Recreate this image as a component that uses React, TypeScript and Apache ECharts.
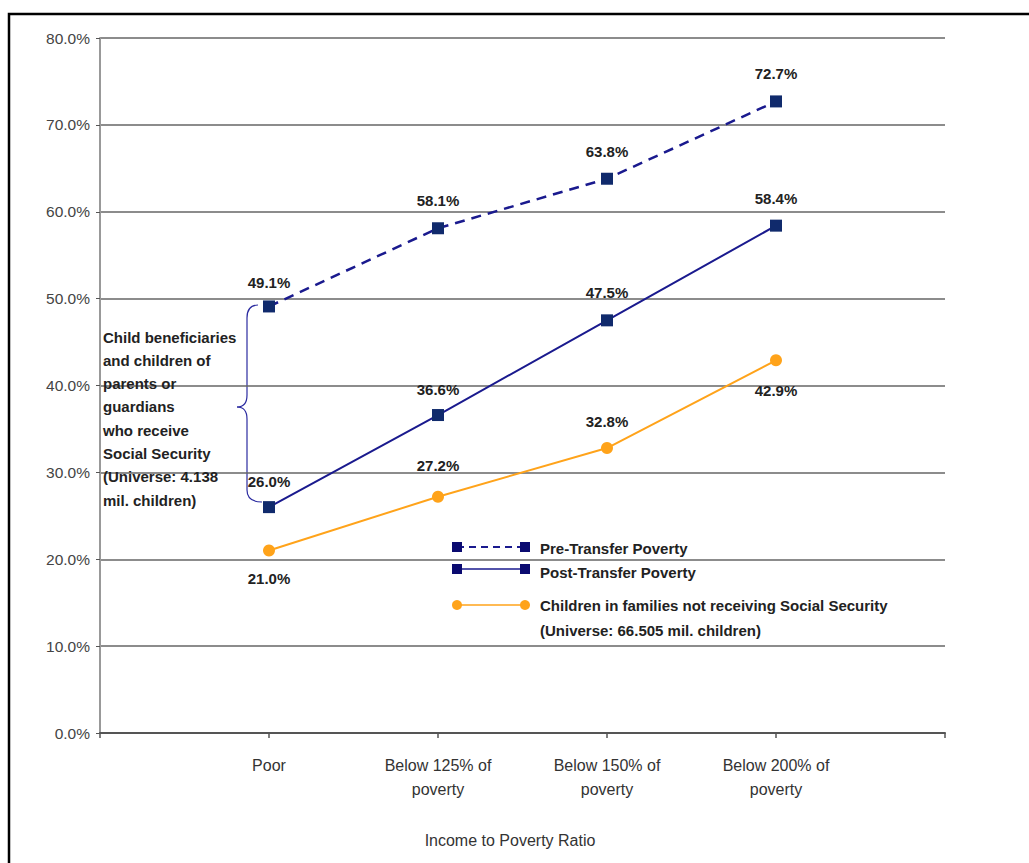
import React, { useEffect, useRef } from "react";
import * as echarts from "echarts";

const categories = ["Poor", "Below 125% of\npoverty", "Below 150% of\npoverty", "Below 200% of\npoverty"];
const preTransfer = [49.1, 58.1, 63.8, 72.7];
const postTransfer = [26.0, 36.6, 47.5, 58.4];
const notReceiving = [21.0, 27.2, 32.8, 42.9];
const preLabelPos = ["top", "top", "top", "top"];
const postLabelPos = ["top", "top", "top", "top"];
const notLabelPos = ["bottom", "top", "top", "bottom"];
const yTicks = [0, 10, 20, 30, 40, 50, 60, 70, 80];
const annotationLines = [
  "Child beneficiaries",
  "and children of",
  "parents or",
  "guardians",
  "who receive",
  "Social Security",
  "(Universe: 4.138",
  "mil. children)",
];
const legendNames = [
  "Pre-Transfer Poverty",
  "Post-Transfer Poverty",
  "Children in families not receiving Social Security",
  "(Universe: 66.505 mil. children)",
];

const NAVY = "#1a1a8e";
const MARK = "#102a6c";
const ORANGE = "#ffa31a";
const FONT = "'Liberation Sans', Arial, sans-serif";
const BFONT = "'Liberation Sans', Arial, sans-serif";

function mkData(vals: number[], pos: string[], dist: number[]) {
  return vals.map((v, i) => ({
    value: [i + 1, v],
    label: { position: pos[i], distance: dist[i] },
  }));
}

export default function App() {
  const ref = useRef<HTMLDivElement>(null);
  useEffect(() => {
    if (!ref.current) return;
    const chart = echarts.init(ref.current, null, { renderer: "svg" });
    const labelStyle = {
      show: true,
      formatter: (p: any) => p.value[1].toFixed(1) + "%",
      fontFamily: BFONT,
      fontWeight: "bold",
      fontSize: 15,
      color: "#222",
    };
    const graphic: any[] = [
      {
        type: "rect",
        shape: { x: 9, y: 14, width: 1100, height: 1000 },
        style: { fill: "none", stroke: "#000", lineWidth: 2.5 },
        silent: true,
      },
      {
        type: "text",
        x: 510,
        y: 840,
        style: { text: "Income to Poverty Ratio", fill: "#333", font: `16px ${FONT}`, align: "center", verticalAlign: "middle" },
      },
    ];
    annotationLines.forEach((t, i) => {
      graphic.push({
        type: "text",
        x: 103,
        y: 337 + i * 23.3,
        z: 10,
        style: { text: t, fill: "#222", font: `bold 15px ${BFONT}`, verticalAlign: "middle" },
      });
    });
    // curly brace
    const braceStyle = { stroke: "#2a2aa0", lineWidth: 1.2, fill: "none" };
    graphic.push(
      { type: "bezierCurve", shape: { x1: 258, y1: 305, cpx1: 247, cpy1: 305, x2: 247, y2: 318 }, style: braceStyle },
      { type: "line", shape: { x1: 247, y1: 318, x2: 247, y2: 395 }, style: braceStyle },
      { type: "bezierCurve", shape: { x1: 247, y1: 395, cpx1: 247, cpy1: 407, x2: 237, y2: 407 }, style: braceStyle },
      { type: "bezierCurve", shape: { x1: 237, y1: 407, cpx1: 247, cpy1: 407, x2: 247, y2: 419 }, style: braceStyle },
      { type: "line", shape: { x1: 247, y1: 419, x2: 247, y2: 490 }, style: braceStyle },
      { type: "bezierCurve", shape: { x1: 247, y1: 490, cpx1: 247, cpy1: 502, x2: 262, y2: 502 }, style: braceStyle }
    );
    // legend
    const lx1 = 457, lx2 = 525;
    const rows = [547, 569, 605];
    rows.forEach((y, i) => {
      const isOrange = i === 2;
      graphic.push({
        type: "line",
        shape: { x1: lx1, y1: y, x2: lx2, y2: y },
        style: {
          stroke: isOrange ? ORANGE : NAVY,
          lineWidth: i === 0 ? 2 : 1.5,
          lineDash: i === 0 ? [7, 5] : null,
        },
      });
      [lx1, lx2].forEach((cx) => {
        if (isOrange) {
          graphic.push({ type: "circle", shape: { cx, cy: y, r: 5 }, style: { fill: ORANGE } });
        } else {
          graphic.push({ type: "rect", shape: { x: cx - 5, y: y - 5, width: 10, height: 10 }, style: { fill: "#0a0a70" } });
        }
      });
    });
    const textRows = [548, 572, 605, 630];
    legendNames.forEach((t, i) => {
      graphic.push({
        type: "text",
        x: 540,
        y: textRows[i],
        z: 10,
        style: { text: t, fill: "#222", font: `bold 15px ${BFONT}`, verticalAlign: "middle" },
      });
    });

    chart.setOption({
      animation: false,
      grid: { left: 100, right: 84, top: 38, bottom: 130, containLabel: false },
      xAxis: {
        type: "value",
        min: 0,
        max: 5,
        interval: 1,
        axisLine: { show: true, lineStyle: { color: "#555", width: 2 } },
        axisTick: { show: true, length: 5, lineStyle: { color: "#555", width: 1.5 } },
        splitLine: { show: false },
        axisLabel: {
          formatter: (v: number) => (v >= 1 && v <= 4 ? categories[v - 1] : ""),
          color: "#333",
          fontFamily: FONT,
          fontSize: 16,
          lineHeight: 24,
          margin: 20,
        },
      },
      yAxis: {
        type: "value",
        min: yTicks[0],
        max: yTicks[yTicks.length - 1],
        interval: 10,
        axisLine: { show: true, lineStyle: { color: "#999", width: 2 } },
        axisTick: { show: true, length: 4, lineStyle: { color: "#555" } },
        splitLine: { show: true, lineStyle: { color: "#666", width: 1.5 } },
        axisLabel: {
          formatter: (v: number) => v.toFixed(1) + "%",
          color: "#444",
          fontFamily: FONT,
          fontSize: 15.5,
          margin: 10,
        },
      },
      graphic,
      series: [
        {
          name: "Pre-Transfer Poverty",
          type: "line",
          data: mkData(preTransfer, preLabelPos, [10.5, 14.5, 13.5, 14.5]),
          symbol: "rect",
          symbolSize: 12,
          itemStyle: { color: MARK },
          lineStyle: { color: NAVY, width: 2.5, type: [10, 7] },
          label: labelStyle,
          z: 3,
        },
        {
          name: "Post-Transfer Poverty",
          type: "line",
          data: mkData(postTransfer, postLabelPos, [12.5, 12.5, 14.5, 13.5]),
          symbol: "rect",
          symbolSize: 12,
          itemStyle: { color: MARK },
          lineStyle: { color: NAVY, width: 2 },
          label: labelStyle,
          z: 3,
        },
        {
          name: "Children in families not receiving Social Security",
          type: "line",
          data: mkData(notReceiving, notLabelPos, [14.5, 17.5, 13.5, 16.5]),
          symbol: "circle",
          symbolSize: 12,
          itemStyle: { color: ORANGE },
          lineStyle: { color: ORANGE, width: 2 },
          label: labelStyle,
          z: 2,
        },
      ],
    });
    return () => chart.dispose();
  }, []);
  return (
    <div
      ref={ref}
      style={{ position: "fixed", left: 0, top: 0, width: 1029, height: 863, background: "#fff" }}
    />
  );
}
